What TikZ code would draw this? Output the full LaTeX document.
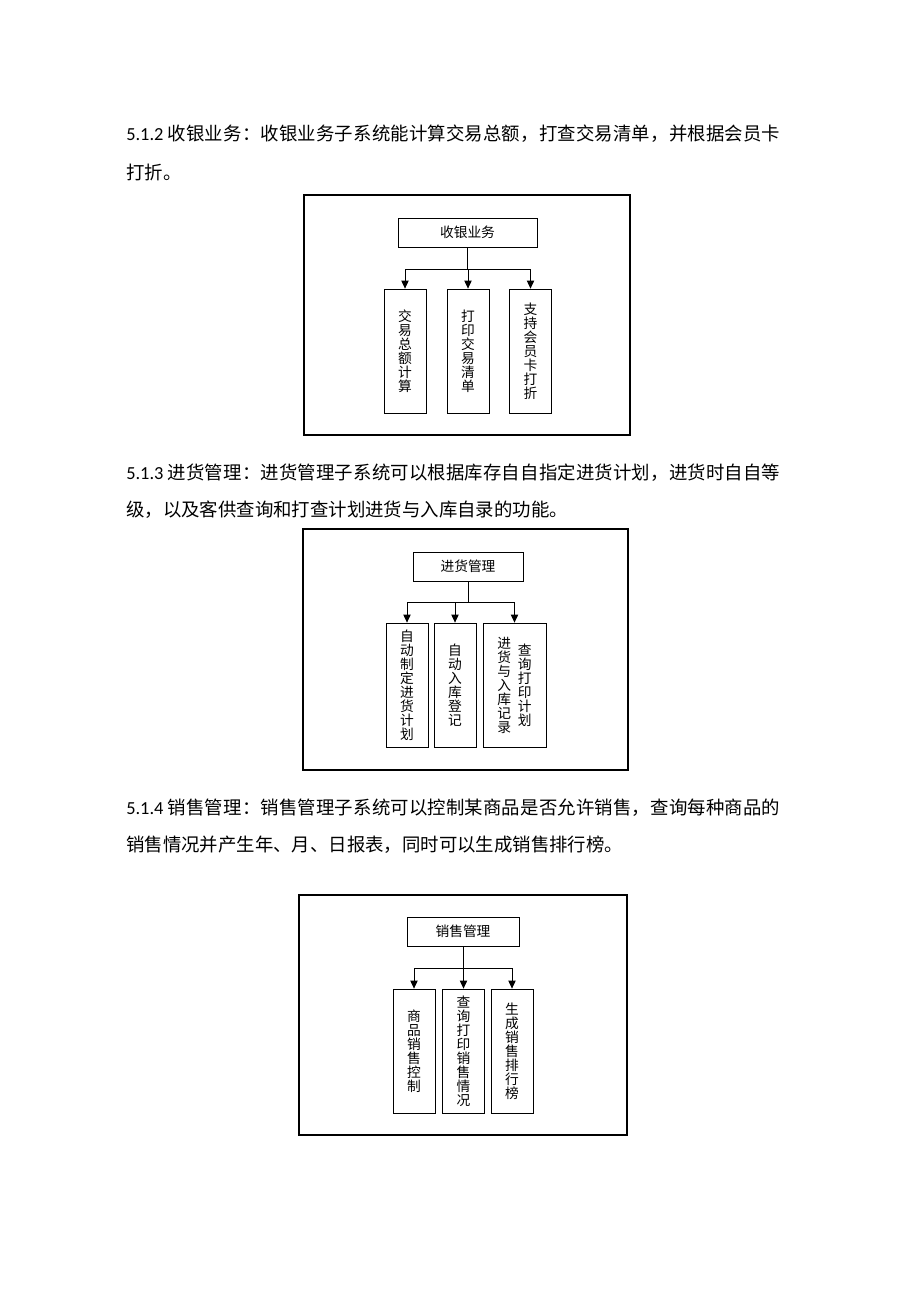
\documentclass[tikz,border=0pt]{standalone}
\usepackage{fontspec}
\setmainfont{Noto Sans CJK SC}
\newfontfamily\latin{Carlito}
\usetikzlibrary{arrows.meta}
\newcommand\px{0.75pt}
\newcommand\shu[1]{\parbox[c]{11pt}{\centering #1}}
\makeatletter
\newcommand\spreadline[2]{\makebox[490.5pt][s]{{\latin #1\ }\@tfor\sp@c:=#2\do{\hskip 0pt plus 1fil\sp@c}}}
\makeatother
\tikzset{
  para/.style={anchor=west, inner sep=0pt, font=\fontsize{13.8}{17}\selectfont},
  headbox/.style={draw, line width=0.6pt, minimum height=29*\px, inner sep=0pt, font=\fontsize{10.3}{10.5}\selectfont},
  itembox/.style={draw, line width=0.6pt, minimum width=42*\px, minimum height=124*\px, inner sep=0pt, align=center, font=\fontsize{10.3}{10.5}\selectfont},
  arr/.style={-{Triangle[width=5.5pt,length=6pt]}, line width=0.6pt},
  picframe/.style={line width=0.8pt}
}
\begin{document}
\begin{tikzpicture}[x=0.75pt, y=-0.75pt]
    \useasboundingbox (0,0) rectangle (920,1302);
    \fill[white] (0,0) rectangle (920,1302);

    \node[para] (p1a) at (126,134) {\spreadline{5.1.2}{收银业务：收银业务子系统能计算交易总额，打查交易清单，并根据会员卡}};
    \node[para] (p1b) at (126,172) {打折。};
    \draw[picframe] (304,195) rectangle (630,435);
    \node[headbox, minimum width=139*\px] (sy) at (467.5,232.5) {收银业务};
    \node[itembox] (sy1) at (405,351) {交\\易\\总\\额\\计\\算};
    \node[itembox] (sy2) at (468,351) {打\\印\\交\\易\\清\\单};
    \node[itembox] (sy3) at (530.5,351) {支\\持\\会\\员\\卡\\打\\折};
    \coordinate (syb) at (467.5,269);
    \draw (sy.south) -- (syb);
    \draw (sy1.north |- syb) -- (sy3.north |- syb);
    \foreach \n in {sy1,sy2,sy3}
        \draw[arr] (\n.north |- syb) -- (\n.north);

    \node[para] (p2a) at (126,473) {\spreadline{5.1.3}{进货管理：进货管理子系统可以根据库存自自指定进货计划，进货时自自等}};
    \node[para] (p2b) at (126,510) {级，以及客供查询和打查计划进货与入库自录的功能。};
    \draw[picframe] (303,529) rectangle (628,770);
    \node[headbox, minimum width=110*\px] (jh) at (468,566.5) {进货管理};
    \node[itembox] (jh1) at (407,685) {自\\动\\制\\定\\进\\货\\计\\划};
    \node[itembox] (jh2) at (455,685) {自\\动\\入\\库\\登\\记};
    \node[itembox, minimum width=63*\px] (jh3) at (514.5,685) {\shu{进\\货\\与\\入\\库\\记\\录}\hspace{4.5pt}\shu{查\\询\\打\\印\\计\\划}};
    \coordinate (jhb) at (468,602);
    \draw (jh.south) -- (jhb);
    \draw (jh1.north |- jhb) -- (jh3.north |- jhb);
    \foreach \n in {jh1,jh2,jh3}
        \draw[arr] (\n.north |- jhb) -- (\n.north);

    \node[para] (p3a) at (126,808) {\spreadline{5.1.4}{销售管理：销售管理子系统可以控制某商品是否允许销售，查询每种商品的}};
    \node[para] (p3b) at (126,845) {销售情况并产生年、月、日报表，同时可以生成销售排行榜。};
    \draw[picframe] (299,895) rectangle (627,1135);
    \node[headbox, minimum width=112*\px] (xs) at (463,931.5) {销售管理};
    \node[itembox] (xs1) at (414,1051) {商\\品\\销\\售\\控\\制};
    \node[itembox] (xs2) at (463.5,1051) {查\\询\\打\\印\\销\\售\\情\\况};
    \node[itembox] (xs3) at (512,1051) {生\\成\\销\\售\\排\\行\\榜};
    \coordinate (xsb) at (463,968);
    \draw (xs.south) -- (xsb);
    \draw (xs1.north |- xsb) -- (xs3.north |- xsb);
    \foreach \n in {xs1,xs2,xs3}
        \draw[arr] (\n.north |- xsb) -- (\n.north);
\end{tikzpicture}
\end{document}
